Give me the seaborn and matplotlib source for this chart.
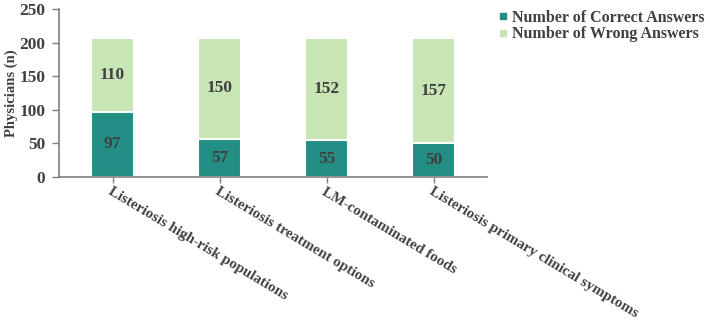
"""
Stacked bar chart of physicians' correct vs wrong answers on listeriosis questions
"""

## Import packages
import pandas as pd
import matplotlib.pyplot as plt
import seaborn as sns
from matplotlib.lines import Line2D


## Data
categories = ['Listeriosis high-risk populations',
              'Listeriosis treatment options',
              'LM-contaminated foods',
              'Listeriosis primary clinical symptoms']
correct = [97, 57, 55, 50]
wrong = [110, 150, 152, 157]
series_names = ['Number of Correct Answers', 'Number of Wrong Answers']

df = pd.DataFrame({'question': categories, 'correct': correct, 'wrong': wrong})
df['total'] = df['correct'] + df['wrong']


## Style
sns.set_theme(style='white')
plt.rcParams['font.family'] = ['Liberation Serif', 'DejaVu Serif']
plt.rcParams['font.weight'] = 'bold'

dark = '#238f84'
light = '#c8e6b5'
grey = '#404040'
axis_grey = '#7f7f7f'

fig = plt.figure(figsize=(7.10, 3.23), dpi=100)
ax = fig.add_axes([59 / 710, 1 - 177 / 323, 428 / 710, 168 / 323])

# Full-height light bars first, then the correct part on top of them
sns.barplot(ax=ax, data=df, x='question', y='total', color=light, width=0.40,
            saturation=1, edgecolor='white', linewidth=1.5)
sns.barplot(ax=ax, data=df, x='question', y='correct', color=dark, width=0.40,
            saturation=1, edgecolor='white', linewidth=1.5)

# Value labels in the middle of each segment
for i, (c, w) in enumerate(zip(df['correct'], df['wrong'])):
    ax.text(i, c / 2, str(c), ha='center', va='center', fontsize=12.5,
            fontweight='bold', color=grey)
    ax.text(i, c + w / 2, str(w), ha='center', va='center', fontsize=12.5,
            fontweight='bold', color=grey)

# Axes
ax.set_ylim(0, 250)
ax.set_xlim(-0.5, 3.5)
ax.set_yticks([0, 50, 100, 150, 200, 250])
ax.set_ylabel('Physicians (n)', fontsize=10.5, fontweight='bold', color=grey, labelpad=1)
ax.set_xlabel('')
ax.tick_params(axis='y', labelsize=12.5, labelcolor=grey, length=5, color=axis_grey,
               width=1, direction='out', left=True, pad=5)
ax.tick_params(axis='x', length=4, color=axis_grey, width=1, direction='out', bottom=True,
               pad=2)
ax.set_xticks(range(len(categories)))
ax.set_xticklabels(categories, rotation=-31, ha='left', rotation_mode='anchor',
                   fontsize=10.8, fontweight='bold', color=grey)

for side in ['top', 'right']:
    ax.spines[side].set_visible(False)
for side in ['left', 'bottom']:
    ax.spines[side].set_color(axis_grey)
    ax.spines[side].set_linewidth(1.2)

# Legend
handles = [Line2D([], [], marker='s', linestyle='', markersize=5, color=dark),
           Line2D([], [], marker='s', linestyle='', markersize=5, color=light)]
fig.legend(handles, series_names, loc='upper left', bbox_to_anchor=(0.688, 1.0),
           frameon=False, handlelength=0.6, handletextpad=0.3,
           labelspacing=0.05, borderaxespad=0.2, labelcolor=grey,
           prop={'weight': 'bold', 'size': 11.5})

plt.savefig('out.png', dpi=100)
